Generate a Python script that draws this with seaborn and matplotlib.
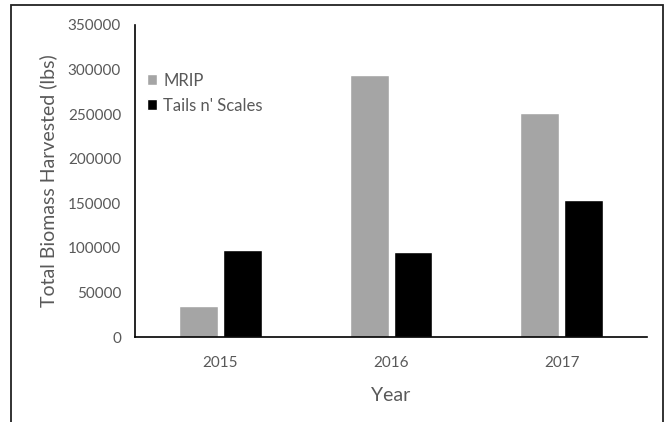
import numpy as np
import pandas as pd
import seaborn as sns
import matplotlib.pyplot as plt
from matplotlib.patches import Rectangle

years = ['2015', '2016', '2017']
mrip = [35000, 293500, 251000]
tails = [97500, 95500, 154000]
series = ['MRIP', "Tails n' Scales"]

df = pd.DataFrame({
    'Year': years * 2,
    'Biomass': mrip + tails,
    'Source': [series[0]] * 3 + [series[1]] * 3,
})

sns.set_style('white')
plt.rcParams['font.family'] = ['Lato', 'DejaVu Sans']

fig = plt.figure(figsize=(6.65, 4.22), dpi=100)
ax = fig.add_axes([0.203, 0.2014, 0.770, 0.7394])

sns.barplot(data=df, x='Year', y='Biomass', hue='Source',
            palette=['#A5A5A5', '#000000'], width=0.515, gap=0.113,
            saturation=1, ax=ax)

ax.set_ylim(0, 350000)
ax.set_yticks(np.arange(0, 350001, 50000))
ax.set_xlim(-0.5, 2.5)
ax.tick_params(axis='both', length=0, labelsize=11, colors='#595959')
ax.tick_params(axis='y', pad=10)
ax.tick_params(axis='x', pad=14)
sns.despine(ax=ax)
for s in ['left', 'bottom']:
    ax.spines[s].set_color('#000000')
    ax.spines[s].set_linewidth(1.2)

ax.set_xlabel('Year', fontsize=14, color='#595959', labelpad=12)
ax.set_ylabel('Total Biomass Harvested (lbs)', fontsize=14, color='#595959', labelpad=8)

leg = ax.legend(loc='upper left', bbox_to_anchor=(0.0, 0.885), frameon=False,
                fontsize=12, handlelength=0.65, handleheight=0.65,
                handletextpad=0.35, labelspacing=0.55, borderaxespad=0.3)
for t in leg.get_texts():
    t.set_color('#595959')

fig.patches.append(Rectangle((0.0165, -0.05), 0.98, 1.038, transform=fig.transFigure,
                             fill=False, edgecolor='#222222', linewidth=1.3))

fig.savefig('out.png', dpi=100)
